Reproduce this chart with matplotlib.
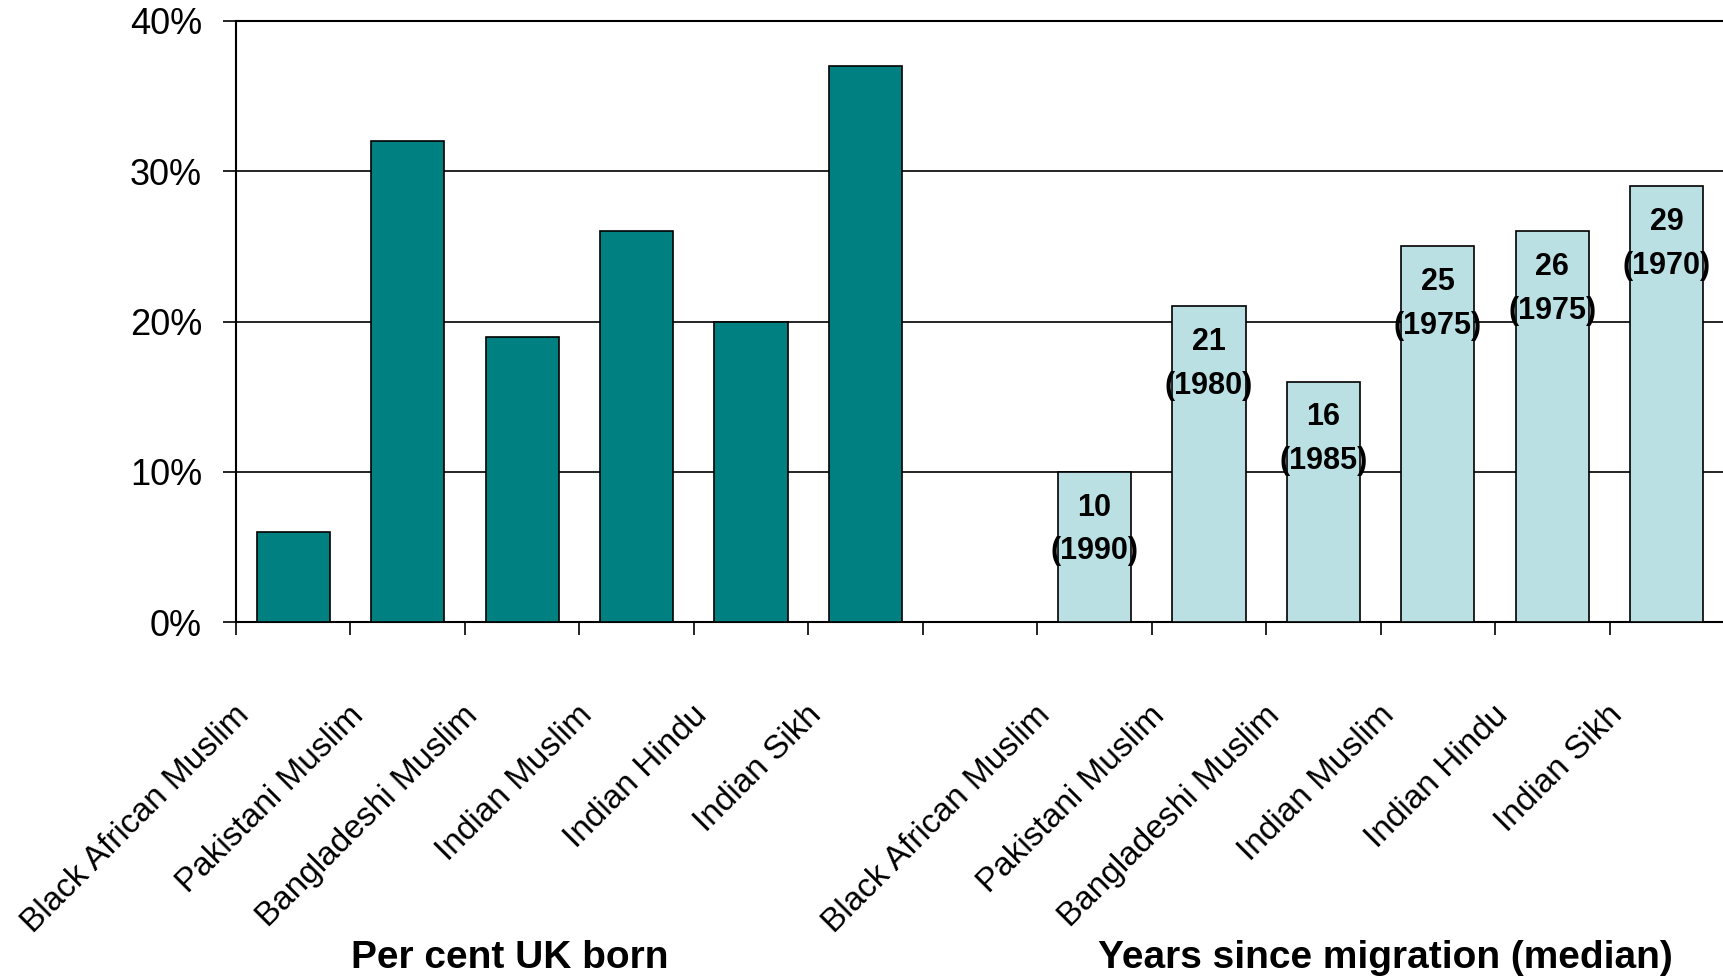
import matplotlib
matplotlib.use('Agg')
import matplotlib.pyplot as plt
import matplotlib.transforms as mtransforms
import numpy as np

# Data
groups = ['Black African Muslim', 'Pakistani Muslim', 'Bangladeshi Muslim',
          'Indian Muslim', 'Indian Hindu', 'Indian Sikh']
uk_born = [6, 32, 19, 26, 20, 37]                 # per cent UK born
years_since = [10, 21, 16, 25, 26, 29]            # years since migration (median)
median_year = [1990, 1980, 1985, 1975, 1975, 1970]

plt.rcParams['font.family'] = ['Liberation Sans', 'DejaVu Sans']

fig = plt.figure(figsize=(17.24, 9.77), dpi=100)
ax = fig.add_axes([236 / 1724, 1 - 622 / 977, 1 - 236 / 1724, (622 - 21) / 977])

# left block in slots 0-5, one empty slot, right block in slots 7-12
left_x = np.arange(len(groups)) + 0.5
right_x = np.arange(len(groups)) + len(groups) + 1.5

ax.bar(left_x, uk_born, width=0.64, color='#008080', edgecolor='black', linewidth=1.2, zorder=3)
ax.bar(right_x, years_since, width=0.64, color='#BBE0E3', edgecolor='black', linewidth=1.2, zorder=3)

# value labels inside the light bars
for x, v, yr in zip(right_x, years_since, median_year):
    ax.annotate('%d\n(%d)' % (v, yr), xy=(x, v), xytext=(0, -15), textcoords='offset points',
                ha='center', va='top', fontsize=22, fontweight='bold', linespacing=1.6, zorder=4)

ax.set_xlim(0, 2 * len(groups) + 1)
ax.set_ylim(0, 40)
ax.set_yticks([0, 10, 20, 30, 40])
ax.set_yticklabels(['%d%%' % t for t in [0, 10, 20, 30, 40]], fontsize=26)
ax.yaxis.grid(True, color='black', linewidth=1.2)
ax.set_axisbelow(True)

# major ticks on slot boundaries, labels on minor ticks at slot centres
ax.set_xticks(np.arange(0, 2 * len(groups) + 2))
ax.set_xticklabels([])
ax.set_xticks(np.concatenate([left_x, right_x]), minor=True)
ax.set_xticklabels(groups + groups, minor=True, fontsize=24, rotation=45,
                   ha='right', va='top', rotation_mode='anchor')
ax.tick_params(axis='x', which='minor', length=0, pad=56)
ax.tick_params(axis='x', which='major', direction='out', length=9.5, width=1.2)
ax.tick_params(axis='y', direction='out', length=9.4, width=1.2, pad=15)

shift = mtransforms.ScaledTranslation(-43 / 72, 0, fig.dpi_scale_trans)
for lab in ax.get_xticklabels(minor=True):
    lab.set_transform(lab.get_transform() + shift)

for s in ['left', 'bottom', 'top']:
    ax.spines[s].set_linewidth(1.5)
ax.spines['right'].set_visible(False)

# block titles under the labels
trans = mtransforms.blended_transform_factory(ax.transData, fig.transFigure)
ax.text((510 - 236) / 114.46, 1 - 968 / 977, 'Per cent UK born', transform=trans,
        ha='center', va='baseline', fontsize=28, fontweight='bold')
ax.text((1385 - 236) / 114.46, 1 - 968 / 977, 'Years since migration (median)', transform=trans,
        ha='center', va='baseline', fontsize=28, fontweight='bold')

plt.savefig('out.png', dpi=100)
